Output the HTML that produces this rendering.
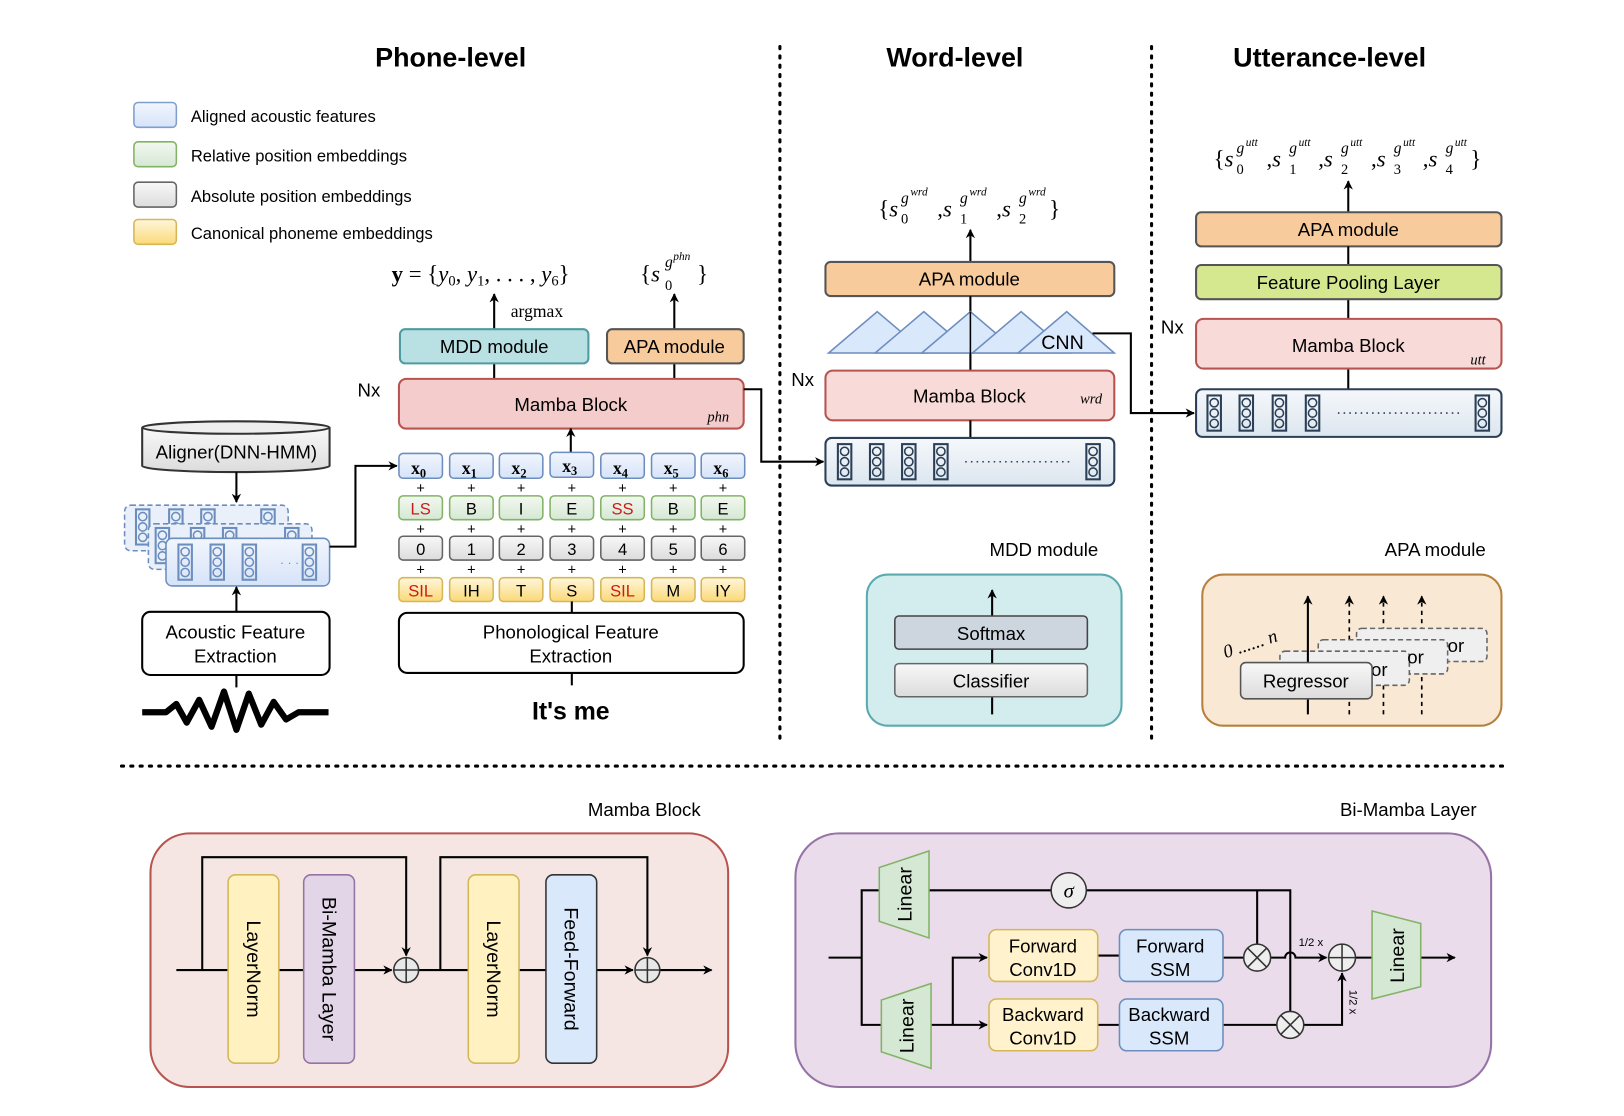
<!DOCTYPE html>
<html><head><meta charset="utf-8"><style>
html,body{margin:0;padding:0;background:#fff}
svg{display:block;font-family:"Liberation Sans",sans-serif}
.s{font-family:"Liberation Serif",serif}
</style></head><body>
<svg width="1624" height="1116" viewBox="0 0 1568 1078" xmlns="http://www.w3.org/2000/svg">
<defs>
<marker id="a" viewBox="0 0 10 10" refX="9" refY="5" markerWidth="9" markerHeight="9" orient="auto-start-reverse" markerUnits="userSpaceOnUse"><path d="M0,0 L10,5 L0,10 L3,5z" fill="#000"/></marker>
<linearGradient id="gb" x1="0" y1="0" x2="0" y2="1"><stop offset="0" stop-color="#f2f6fd"/><stop offset="1" stop-color="#d6e3f8"/></linearGradient>
<linearGradient id="gg" x1="0" y1="0" x2="0" y2="1"><stop offset="0" stop-color="#f3f8f0"/><stop offset="1" stop-color="#d5e8d4"/></linearGradient>
<linearGradient id="gy" x1="0" y1="0" x2="0" y2="1"><stop offset="0" stop-color="#fff7dc"/><stop offset="1" stop-color="#fbd978"/></linearGradient>
<linearGradient id="gw" x1="0" y1="0" x2="0" y2="1"><stop offset="0" stop-color="#f8f8f8"/><stop offset="1" stop-color="#dcdcdc"/></linearGradient>
<linearGradient id="gs" x1="0" y1="0" x2="0" y2="1"><stop offset="0" stop-color="#f5f8fb"/><stop offset="1" stop-color="#dce6ef"/></linearGradient>
<g id="ic"><rect x="0" y="0" width="13" height="34" fill="none" stroke="#2b3f57" stroke-width="2"/><circle cx="6.5" cy="7" r="4" fill="none" stroke="#2b3f57" stroke-width="1.5"/><circle cx="6.5" cy="17" r="4" fill="none" stroke="#2b3f57" stroke-width="1.5"/><circle cx="6.5" cy="27" r="4" fill="none" stroke="#2b3f57" stroke-width="1.5"/></g>
<g id="icb"><rect x="0" y="0" width="13" height="34" fill="none" stroke="#6c8ebf" stroke-width="2"/><circle cx="6.5" cy="7" r="4" fill="none" stroke="#6c8ebf" stroke-width="1.5"/><circle cx="6.5" cy="17" r="4" fill="none" stroke="#6c8ebf" stroke-width="1.5"/><circle cx="6.5" cy="27" r="4" fill="none" stroke="#6c8ebf" stroke-width="1.5"/></g>
</defs>

<g font-weight="bold" font-size="26" text-anchor="middle">
<text x="435" y="64">Phone-level</text><text x="922" y="64">Word-level</text><text x="1284" y="64">Utterance-level</text></g>
<g stroke="#000" stroke-width="3" stroke-dasharray="2,7" stroke-linecap="round">
<line x1="753" y1="45" x2="753" y2="715"/><line x1="1112" y1="45" x2="1112" y2="715"/><line x1="117" y1="740" x2="1455" y2="740"/></g>

<rect x="129" y="99" width="41" height="24" rx="4" fill="url(#gb)" stroke="#7f9ed0" stroke-width="1.5"/>
<rect x="129" y="137" width="41" height="24" rx="4" fill="url(#gg)" stroke="#82b366" stroke-width="1.5"/>
<rect x="129" y="176" width="41" height="24" rx="4" fill="url(#gw)" stroke="#666" stroke-width="1.5"/>
<rect x="129" y="212" width="41" height="24" rx="4" fill="url(#gy)" stroke="#d6b656" stroke-width="1.5"/>
<g font-size="16"><text x="184" y="118">Aligned acoustic features</text><text x="184" y="156">Relative position embeddings</text><text x="184" y="195">Absolute position embeddings</text><text x="184" y="231">Canonical phoneme embeddings</text></g>

<text class="s" x="378" y="272" font-size="22"><tspan font-weight="bold">y</tspan> = {<tspan font-style="italic">y</tspan><tspan font-size="14" dy="4">0</tspan><tspan dy="-4">, </tspan><tspan font-style="italic">y</tspan><tspan font-size="14" dy="4">1</tspan><tspan dy="-4">, . . . , </tspan><tspan font-style="italic">y</tspan><tspan font-size="14" dy="4">6</tspan><tspan dy="-4">}</tspan></text>
<text class="s" x="618" y="272" font-size="22">{<tspan font-style="italic">s</tspan></text>
<text class="s" x="642" y="280" font-size="14">0</text>
<text class="s" x="642" y="258" font-size="15" font-style="italic">g</text>
<text class="s" x="650" y="251" font-size="11" font-style="italic">phn</text>
<text class="s" x="673" y="272" font-size="22">}</text>
<text class="s" x="493" y="306" font-size="17">argmax</text>
<g stroke="#000" stroke-width="2" fill="none">
<line x1="477" y1="318" x2="477" y2="284" marker-end="url(#a)"/>
<line x1="651" y1="318" x2="651" y2="284" marker-end="url(#a)"/>
<line x1="477" y1="351" x2="477" y2="366"/><line x1="651" y1="351" x2="651" y2="366"/>
</g>
<rect x="386" y="318" width="182" height="33" rx="5" fill="#b9e0e2" stroke="#4f9ca0" stroke-width="2"/>
<text x="477" y="341" font-size="18" text-anchor="middle">MDD module</text>
<rect x="586" y="318" width="132" height="33" rx="5" fill="#f8cb9c" stroke="#555" stroke-width="2"/>
<text x="651" y="341" font-size="18" text-anchor="middle">APA module</text>
<text x="345" y="383" font-size="18">Nx</text>
<rect x="385" y="366" width="333" height="48" rx="7" fill="#f3cccb" stroke="#b85450" stroke-width="2"/>
<text x="551" y="397" font-size="18" text-anchor="middle">Mamba Block</text>
<text class="s" x="683" y="407" font-size="14" font-style="italic">phn</text>
<line x1="551" y1="437" x2="551" y2="414" stroke="#000" stroke-width="2" marker-end="url(#a)"/>

<g font-size="16" text-anchor="middle">
<g stroke-width="1.5">
<rect x="385" y="438" width="42" height="24" rx="4" fill="url(#gb)" stroke="#6c8ebf"/><rect x="434" y="438" width="42" height="24" rx="4" fill="url(#gb)" stroke="#6c8ebf"/><rect x="482" y="438" width="42" height="24" rx="4" fill="url(#gb)" stroke="#6c8ebf"/><rect x="531" y="437" width="42" height="24" rx="4" fill="url(#gb)" stroke="#6c8ebf"/><rect x="580" y="438" width="42" height="24" rx="4" fill="url(#gb)" stroke="#6c8ebf"/><rect x="629" y="438" width="42" height="24" rx="4" fill="url(#gb)" stroke="#6c8ebf"/><rect x="677" y="438" width="42" height="24" rx="4" fill="url(#gb)" stroke="#6c8ebf"/>
<rect x="385" y="479" width="42" height="23" rx="4" fill="url(#gg)" stroke="#82b366"/><rect x="434" y="479" width="42" height="23" rx="4" fill="url(#gg)" stroke="#82b366"/><rect x="482" y="479" width="42" height="23" rx="4" fill="url(#gg)" stroke="#82b366"/><rect x="531" y="479" width="42" height="23" rx="4" fill="url(#gg)" stroke="#82b366"/><rect x="580" y="479" width="42" height="23" rx="4" fill="url(#gg)" stroke="#82b366"/><rect x="629" y="479" width="42" height="23" rx="4" fill="url(#gg)" stroke="#82b366"/><rect x="677" y="479" width="42" height="23" rx="4" fill="url(#gg)" stroke="#82b366"/>
<rect x="385" y="518" width="42" height="23" rx="4" fill="url(#gw)" stroke="#666"/><rect x="434" y="518" width="42" height="23" rx="4" fill="url(#gw)" stroke="#666"/><rect x="482" y="518" width="42" height="23" rx="4" fill="url(#gw)" stroke="#666"/><rect x="531" y="518" width="42" height="23" rx="4" fill="url(#gw)" stroke="#666"/><rect x="580" y="518" width="42" height="23" rx="4" fill="url(#gw)" stroke="#666"/><rect x="629" y="518" width="42" height="23" rx="4" fill="url(#gw)" stroke="#666"/><rect x="677" y="518" width="42" height="23" rx="4" fill="url(#gw)" stroke="#666"/>
<rect x="385" y="558" width="42" height="23" rx="4" fill="url(#gy)" stroke="#d6b656"/><rect x="434" y="558" width="42" height="23" rx="4" fill="url(#gy)" stroke="#d6b656"/><rect x="482" y="558" width="42" height="23" rx="4" fill="url(#gy)" stroke="#d6b656"/><rect x="531" y="558" width="42" height="23" rx="4" fill="url(#gy)" stroke="#d6b656"/><rect x="580" y="558" width="42" height="23" rx="4" fill="url(#gy)" stroke="#d6b656"/><rect x="629" y="558" width="42" height="23" rx="4" fill="url(#gy)" stroke="#d6b656"/><rect x="677" y="558" width="42" height="23" rx="4" fill="url(#gy)" stroke="#d6b656"/>
</g>
<g class="s" font-weight="bold" font-size="17"><text x="404" y="458">x<tspan font-size="12" dy="3">0</tspan></text><text x="453" y="458">x<tspan font-size="12" dy="3">1</tspan></text><text x="501" y="458">x<tspan font-size="12" dy="3">2</tspan></text><text x="550" y="456">x<tspan font-size="12" dy="3">3</tspan></text><text x="599" y="458">x<tspan font-size="12" dy="3">4</tspan></text><text x="648" y="458">x<tspan font-size="12" dy="3">5</tspan></text><text x="696" y="458">x<tspan font-size="12" dy="3">6</tspan></text></g>
<text x="406" y="497" fill="#cc1a1a">LS</text><text x="455" y="497">B</text><text x="503" y="497">I</text><text x="552" y="497">E</text><text x="601" y="497" fill="#cc1a1a">SS</text><text x="650" y="497">B</text><text x="698" y="497">E</text>
<text x="406" y="536">0</text><text x="455" y="536">1</text><text x="503" y="536">2</text><text x="552" y="536">3</text><text x="601" y="536">4</text><text x="650" y="536">5</text><text x="698" y="536">6</text>
<text x="406" y="576" fill="#cc1a1a">SIL</text><text x="455" y="576">IH</text><text x="503" y="576">T</text><text x="552" y="576">S</text><text x="601" y="576" fill="#cc1a1a">SIL</text><text x="650" y="576">M</text><text x="698" y="576">IY</text>
<g font-size="14"><text x="406" y="476">+</text><text x="455" y="476">+</text><text x="503" y="476">+</text><text x="552" y="476">+</text><text x="601" y="476">+</text><text x="650" y="476">+</text><text x="698" y="476">+</text>
<text x="406" y="516">+</text><text x="455" y="516">+</text><text x="503" y="516">+</text><text x="552" y="516">+</text><text x="601" y="516">+</text><text x="650" y="516">+</text><text x="698" y="516">+</text>
<text x="406" y="555">+</text><text x="455" y="555">+</text><text x="503" y="555">+</text><text x="552" y="555">+</text><text x="601" y="555">+</text><text x="650" y="555">+</text><text x="698" y="555">+</text></g>
</g>
<line x1="552" y1="581" x2="552" y2="592" stroke="#000" stroke-width="2"/>
<rect x="385" y="592" width="333" height="58" rx="8" fill="#fff" stroke="#000" stroke-width="2"/>
<text x="551" y="617" font-size="18" text-anchor="middle">Phonological Feature</text>
<text x="551" y="640" font-size="18" text-anchor="middle">Extraction</text>
<line x1="552" y1="650" x2="552" y2="662" stroke="#000" stroke-width="2"/>
<text x="551" y="695" font-size="24" font-weight="bold" text-anchor="middle">It's me</text>

<path d="M137,413 L137,450 A90.5,6 0 0 0 318,450 L318,413" fill="url(#gw)" stroke="#333" stroke-width="2"/>
<ellipse cx="227.5" cy="413" rx="90.5" ry="6" fill="#eee" stroke="#333" stroke-width="2"/>
<text x="228" y="443" font-size="18" text-anchor="middle">Aligner(DNN-HMM)</text>
<line x1="228" y1="456" x2="228" y2="485" stroke="#000" stroke-width="2" marker-end="url(#a)"/>
<rect x="120" y="488" width="158" height="44" rx="6" fill="#eaf0fa" stroke="#6c8ebf" stroke-width="1.5" stroke-dasharray="5,3"/>
<use href="#icb" x="131" y="492"/><use href="#icb" x="163" y="492"/><use href="#icb" x="194" y="492"/><use href="#icb" x="252" y="492"/>
<rect x="143" y="506" width="158" height="44" rx="6" fill="#eaf0fa" stroke="#6c8ebf" stroke-width="1.5" stroke-dasharray="5,3"/>
<use href="#icb" x="150" y="510"/><use href="#icb" x="184" y="510"/><use href="#icb" x="215" y="510"/><use href="#icb" x="275" y="510"/>
<rect x="160" y="520" width="158" height="46" rx="6" fill="url(#gb)" stroke="#6c8ebf" stroke-width="1.5"/>
<use href="#icb" x="172" y="526"/><use href="#icb" x="203" y="526"/><use href="#icb" x="234" y="526"/><use href="#icb" x="292" y="526"/>
<text x="270" y="547" font-size="12" fill="#6c8ebf">· · ·</text>
<polyline points="318,528 343,528 343,450 383,450" fill="none" stroke="#000" stroke-width="2" marker-end="url(#a)"/>
<line x1="228" y1="591" x2="228" y2="567" stroke="#000" stroke-width="2" marker-end="url(#a)"/>
<rect x="137" y="591" width="181" height="61" rx="8" fill="#fff" stroke="#000" stroke-width="2"/>
<text x="227" y="617" font-size="18" text-anchor="middle">Acoustic Feature</text>
<text x="227" y="640" font-size="18" text-anchor="middle">Extraction</text>
<line x1="228" y1="652" x2="228" y2="664" stroke="#000" stroke-width="2"/>
<polyline points="137,688 160,688 170,680 180,698 192,676 204,702 216,668 228,705 240,670 252,700 264,678 276,695 288,688 317,688" fill="none" stroke="#000" stroke-width="6" stroke-linejoin="round"/>
<polyline points="718,376 735,376 735,446 795,446" fill="none" stroke="#000" stroke-width="2" marker-end="url(#a)"/>

<text class="s" x="848" y="209" font-size="22">{<tspan font-style="italic">s</tspan></text>
<text class="s" x="870" y="216" font-size="14">0</text><text class="s" x="870" y="196" font-size="15" font-style="italic">g</text><text class="s" x="879" y="189" font-size="11" font-style="italic">wrd</text>
<text class="s" x="905" y="209" font-size="22">,<tspan font-style="italic">s</tspan></text>
<text class="s" x="927" y="216" font-size="14">1</text><text class="s" x="927" y="196" font-size="15" font-style="italic">g</text><text class="s" x="936" y="189" font-size="11" font-style="italic">wrd</text>
<text class="s" x="962" y="209" font-size="22">,<tspan font-style="italic">s</tspan></text>
<text class="s" x="984" y="216" font-size="14">2</text><text class="s" x="984" y="196" font-size="15" font-style="italic">g</text><text class="s" x="993" y="189" font-size="11" font-style="italic">wrd</text>
<text class="s" x="1013" y="209" font-size="22">}</text>
<line x1="937" y1="253" x2="937" y2="222" stroke="#000" stroke-width="2" marker-end="url(#a)"/>
<rect x="797" y="253" width="279" height="33" rx="5" fill="#f8cb9c" stroke="#555" stroke-width="2"/>
<text x="936" y="276" font-size="18" text-anchor="middle">APA module</text>
<line x1="937" y1="286" x2="937" y2="358" stroke="#000" stroke-width="2"/>
<g fill="#dae8fc" stroke="#6c8ebf" stroke-width="1.5">
<polygon points="800,341 847,301 894,341"/><polygon points="845,341 892,301 939,341"/><polygon points="890,341 937,301 984,341"/><polygon points="939,341 986,301 1033,341"/><polygon points="983,341 1030,301 1076,341"/></g>
<line x1="937" y1="301" x2="937" y2="358" stroke="#000" stroke-width="1.5"/>
<text x="1026" y="337" font-size="19" text-anchor="middle">CNN</text>
<text x="764" y="373" font-size="18">Nx</text>
<rect x="797" y="358" width="279" height="48" rx="7" fill="#f8dbd8" stroke="#b85450" stroke-width="2"/>
<text x="936" y="389" font-size="18" text-anchor="middle">Mamba Block</text>
<text class="s" x="1043" y="390" font-size="14" font-style="italic">wrd</text>
<line x1="937" y1="406" x2="937" y2="423" stroke="#000" stroke-width="2"/>
<rect x="797" y="423" width="279" height="46" rx="6" fill="url(#gs)" stroke="#2b3f57" stroke-width="2"/>
<use href="#ic" x="809" y="429"/><use href="#ic" x="840" y="429"/><use href="#ic" x="871" y="429"/><use href="#ic" x="902" y="429"/><use href="#ic" x="1049" y="429"/>
<line x1="932" y1="446" x2="1035" y2="446" stroke="#2b3f57" stroke-width="1.5" stroke-dasharray="1.5,4"/>
<polyline points="1055,322 1092,322 1092,399 1153,399" fill="none" stroke="#000" stroke-width="2" marker-end="url(#a)"/>

<g class="s">
<text x="1172" y="161" font-size="22">{<tspan font-style="italic">s</tspan></text>
<text x="1194" y="168" font-size="14">0</text><text x="1194" y="148" font-size="15" font-style="italic">g</text><text x="1203" y="141" font-size="11" font-style="italic">utt</text>
<text x="1223" y="161" font-size="22">,<tspan font-style="italic">s</tspan></text>
<text x="1245" y="168" font-size="14">1</text><text x="1245" y="148" font-size="15" font-style="italic">g</text><text x="1254" y="141" font-size="11" font-style="italic">utt</text>
<text x="1273" y="161" font-size="22">,<tspan font-style="italic">s</tspan></text>
<text x="1295" y="168" font-size="14">2</text><text x="1295" y="148" font-size="15" font-style="italic">g</text><text x="1304" y="141" font-size="11" font-style="italic">utt</text>
<text x="1324" y="161" font-size="22">,<tspan font-style="italic">s</tspan></text>
<text x="1346" y="168" font-size="14">3</text><text x="1346" y="148" font-size="15" font-style="italic">g</text><text x="1355" y="141" font-size="11" font-style="italic">utt</text>
<text x="1374" y="161" font-size="22">,<tspan font-style="italic">s</tspan></text>
<text x="1396" y="168" font-size="14">4</text><text x="1396" y="148" font-size="15" font-style="italic">g</text><text x="1405" y="141" font-size="11" font-style="italic">utt</text>
<text x="1420" y="161" font-size="22">}</text></g>
<line x1="1302" y1="205" x2="1302" y2="175" stroke="#000" stroke-width="2" marker-end="url(#a)"/>
<rect x="1155" y="205" width="295" height="33" rx="5" fill="#f8cb9c" stroke="#555" stroke-width="2"/>
<text x="1302" y="228" font-size="18" text-anchor="middle">APA module</text>
<line x1="1302" y1="238" x2="1302" y2="376" stroke="#000" stroke-width="2"/>
<rect x="1155" y="256" width="295" height="33" rx="5" fill="#d5e88f" stroke="#555" stroke-width="2"/>
<text x="1302" y="279" font-size="18" text-anchor="middle">Feature Pooling Layer</text>
<text x="1121" y="322" font-size="18">Nx</text>
<rect x="1155" y="308" width="295" height="48" rx="7" fill="#f8dbd8" stroke="#b85450" stroke-width="2"/>
<text x="1302" y="340" font-size="18" text-anchor="middle">Mamba Block</text>
<text class="s" x="1420" y="352" font-size="14" font-style="italic">utt</text>
<rect x="1155" y="376" width="295" height="46" rx="6" fill="url(#gs)" stroke="#2b3f57" stroke-width="2"/>
<use href="#ic" x="1166" y="382"/><use href="#ic" x="1197" y="382"/><use href="#ic" x="1229" y="382"/><use href="#ic" x="1261" y="382"/><use href="#ic" x="1425" y="382"/>
<line x1="1292" y1="399" x2="1412" y2="399" stroke="#2b3f57" stroke-width="1.5" stroke-dasharray="1.5,4"/>

<text x="1008" y="537" font-size="18" text-anchor="middle">MDD module</text>
<rect x="837" y="555" width="246" height="146" rx="20" fill="#d3ecee" stroke="#5aabb0" stroke-width="2"/>
<line x1="958" y1="690" x2="958" y2="570" stroke="#000" stroke-width="2" marker-end="url(#a)"/>
<rect x="864" y="595" width="186" height="32" rx="4" fill="#cdd5de" stroke="#444" stroke-width="1.5"/>
<text x="957" y="618" font-size="18" text-anchor="middle">Softmax</text>
<rect x="864" y="641" width="186" height="32" rx="4" fill="url(#gw)" stroke="#666" stroke-width="1.5"/>
<text x="957" y="664" font-size="18" text-anchor="middle">Classifier</text>

<text x="1386" y="537" font-size="18" text-anchor="middle">APA module</text>
<rect x="1161" y="555" width="289" height="146" rx="20" fill="#f9e8d3" stroke="#b8803e" stroke-width="2"/>
<g stroke="#000" stroke-width="1.6" stroke-dasharray="4,4">
<line x1="1303" y1="690" x2="1303" y2="576" marker-end="url(#a)"/><line x1="1336" y1="690" x2="1336" y2="576" marker-end="url(#a)"/><line x1="1373" y1="690" x2="1373" y2="576" marker-end="url(#a)"/></g>
<rect x="1310" y="607" width="126" height="32" rx="5" fill="#efefef" stroke="#666" stroke-width="1.5" stroke-dasharray="5,3"/>
<rect x="1273" y="618" width="125" height="33" rx="5" fill="#efefef" stroke="#666" stroke-width="1.5" stroke-dasharray="5,3"/>
<rect x="1236" y="629" width="125" height="33" rx="5" fill="#efefef" stroke="#666" stroke-width="1.5" stroke-dasharray="5,3"/>
<g font-size="18"><text x="1398" y="630">or</text><text x="1359" y="641">or</text><text x="1324" y="653">or</text></g>
<line x1="1263" y1="690" x2="1263" y2="576" stroke="#000" stroke-width="2" marker-end="url(#a)"/>
<rect x="1198" y="640" width="127" height="35" rx="5" fill="url(#gw)" stroke="#555" stroke-width="1.5"/>
<text x="1261" y="664" font-size="18" text-anchor="middle">Regressor</text>
<text class="s" x="1180" y="630" font-size="18" font-style="italic" transform="rotate(-18 1200 622)">0 ...... n</text>

<text x="622" y="788" font-size="18" text-anchor="middle">Mamba Block</text>
<rect x="145" y="805" width="558" height="245" rx="38" fill="#f5e6e4" stroke="#b85450" stroke-width="2"/>
<g stroke="#000" stroke-width="2" fill="none">
<line x1="170" y1="937" x2="378" y2="937" marker-end="url(#a)"/>
<polyline points="195,937 195,828 392,828 392,923" marker-end="url(#a)"/>
<line x1="404" y1="937" x2="611" y2="937" marker-end="url(#a)"/>
<polyline points="425,937 425,828 625,828 625,923" marker-end="url(#a)"/>
<line x1="637" y1="937" x2="687" y2="937" marker-end="url(#a)"/>
</g>
<rect x="220" y="845" width="49" height="182" rx="7" fill="#fff2c0" stroke="#d6b656" stroke-width="1.5"/>
<rect x="293" y="845" width="49" height="182" rx="7" fill="#e1d5e7" stroke="#9673a6" stroke-width="1.5"/>
<rect x="452" y="845" width="49" height="182" rx="7" fill="#fff2c0" stroke="#d6b656" stroke-width="1.5"/>
<rect x="527" y="845" width="49" height="182" rx="7" fill="#dae8fc" stroke="#333" stroke-width="1.5"/>
<g font-size="19" text-anchor="middle">
<text transform="translate(238,936) rotate(90)">LayerNorm</text>
<text transform="translate(311,936) rotate(90)">Bi-Mamba Layer</text>
<text transform="translate(470,936) rotate(90)">LayerNorm</text>
<text transform="translate(545,936) rotate(90)">Feed-Forward</text></g>
<g fill="#e8e8e8" stroke="#333" stroke-width="1.5"><circle cx="392" cy="937" r="12"/><circle cx="625" cy="937" r="12"/></g>
<g stroke="#333" stroke-width="1.5"><line x1="380" y1="937" x2="404" y2="937"/><line x1="392" y1="925" x2="392" y2="949"/><line x1="613" y1="937" x2="637" y2="937"/><line x1="625" y1="925" x2="625" y2="949"/></g>

<text x="1360" y="788" font-size="18" text-anchor="middle">Bi-Mamba Layer</text>
<rect x="768" y="805" width="672" height="245" rx="42" fill="#eadcea" stroke="#9673a6" stroke-width="2"/>
<g stroke="#000" stroke-width="2" fill="none">
<line x1="800" y1="925" x2="832" y2="925"/>
<polyline points="851,860 832,860 832,990 851,990"/>
<line x1="897" y1="860" x2="1015" y2="860"/>
<polyline points="1049,860 1246,860 1246,977"/>
<line x1="1214" y1="860" x2="1214" y2="912"/>
<line x1="899" y1="990" x2="953" y2="990" marker-end="url(#a)"/>
<polyline points="920,990 920,925 953,925" marker-end="url(#a)"/>
<line x1="1060" y1="923" x2="1081" y2="923"/><line x1="1060" y1="990" x2="1081" y2="990"/>
<line x1="1181" y1="925" x2="1201" y2="925"/><line x1="1181" y1="990" x2="1233" y2="990"/>
<path d="M1227,925 L1241,925 A5,5 0 0 1 1251,925 L1281,925" marker-end="url(#a)"/>
<polyline points="1259,990 1296,990 1296,940" marker-end="url(#a)"/>
<line x1="1309" y1="925" x2="1325" y2="925"/>
<line x1="1372" y1="925" x2="1405" y2="925" marker-end="url(#a)"/>
</g>
<g fill="#d5e8d4" stroke="#82b366" stroke-width="1.5">
<polygon points="849,838 897,822 897,906 849,890"/>
<polygon points="851,966 899,950 899,1032 851,1016"/>
<polygon points="1325,880 1372,892 1372,953 1325,965"/></g>
<g font-size="19" text-anchor="middle">
<text transform="translate(880,864) rotate(-90)">Linear</text>
<text transform="translate(882,991) rotate(-90)">Linear</text>
<text transform="translate(1356,923) rotate(-90)">Linear</text></g>
<circle cx="1032" cy="860" r="17" fill="#eee" stroke="#333" stroke-width="1.5"/>
<text class="s" x="1032" y="867" font-size="20" font-style="italic" text-anchor="middle">σ</text>
<rect x="955" y="898" width="105" height="50" rx="7" fill="#fff2cc" stroke="#d6b656" stroke-width="1.5"/>
<rect x="1081" y="898" width="100" height="50" rx="7" fill="#dae8fc" stroke="#6c8ebf" stroke-width="1.5"/>
<rect x="955" y="965" width="105" height="50" rx="7" fill="#fff2cc" stroke="#d6b656" stroke-width="1.5"/>
<rect x="1081" y="965" width="100" height="50" rx="7" fill="#dae8fc" stroke="#6c8ebf" stroke-width="1.5"/>
<g font-size="18" text-anchor="middle">
<text x="1007" y="920">Forward</text><text x="1007" y="943">Conv1D</text>
<text x="1130" y="920">Forward</text><text x="1130" y="943">SSM</text>
<text x="1007" y="986">Backward</text><text x="1007" y="1009">Conv1D</text>
<text x="1129" y="986">Backward</text><text x="1129" y="1009">SSM</text></g>
<g fill="#eee" stroke="#333" stroke-width="1.5"><circle cx="1214" cy="925" r="13"/><circle cx="1246" cy="990" r="13"/><circle cx="1296" cy="925" r="13"/></g>
<g stroke="#333" stroke-width="1.5">
<line x1="1205" y1="916" x2="1223" y2="934"/><line x1="1223" y1="916" x2="1205" y2="934"/>
<line x1="1237" y1="981" x2="1255" y2="999"/><line x1="1255" y1="981" x2="1237" y2="999"/>
<line x1="1283" y1="925" x2="1309" y2="925"/><line x1="1296" y1="912" x2="1296" y2="938"/></g>
<text x="1254" y="914" font-size="11">1/2 x</text>
<text transform="translate(1303,956) rotate(90)" font-size="11">1/2 x</text>
</svg>
</body></html>
